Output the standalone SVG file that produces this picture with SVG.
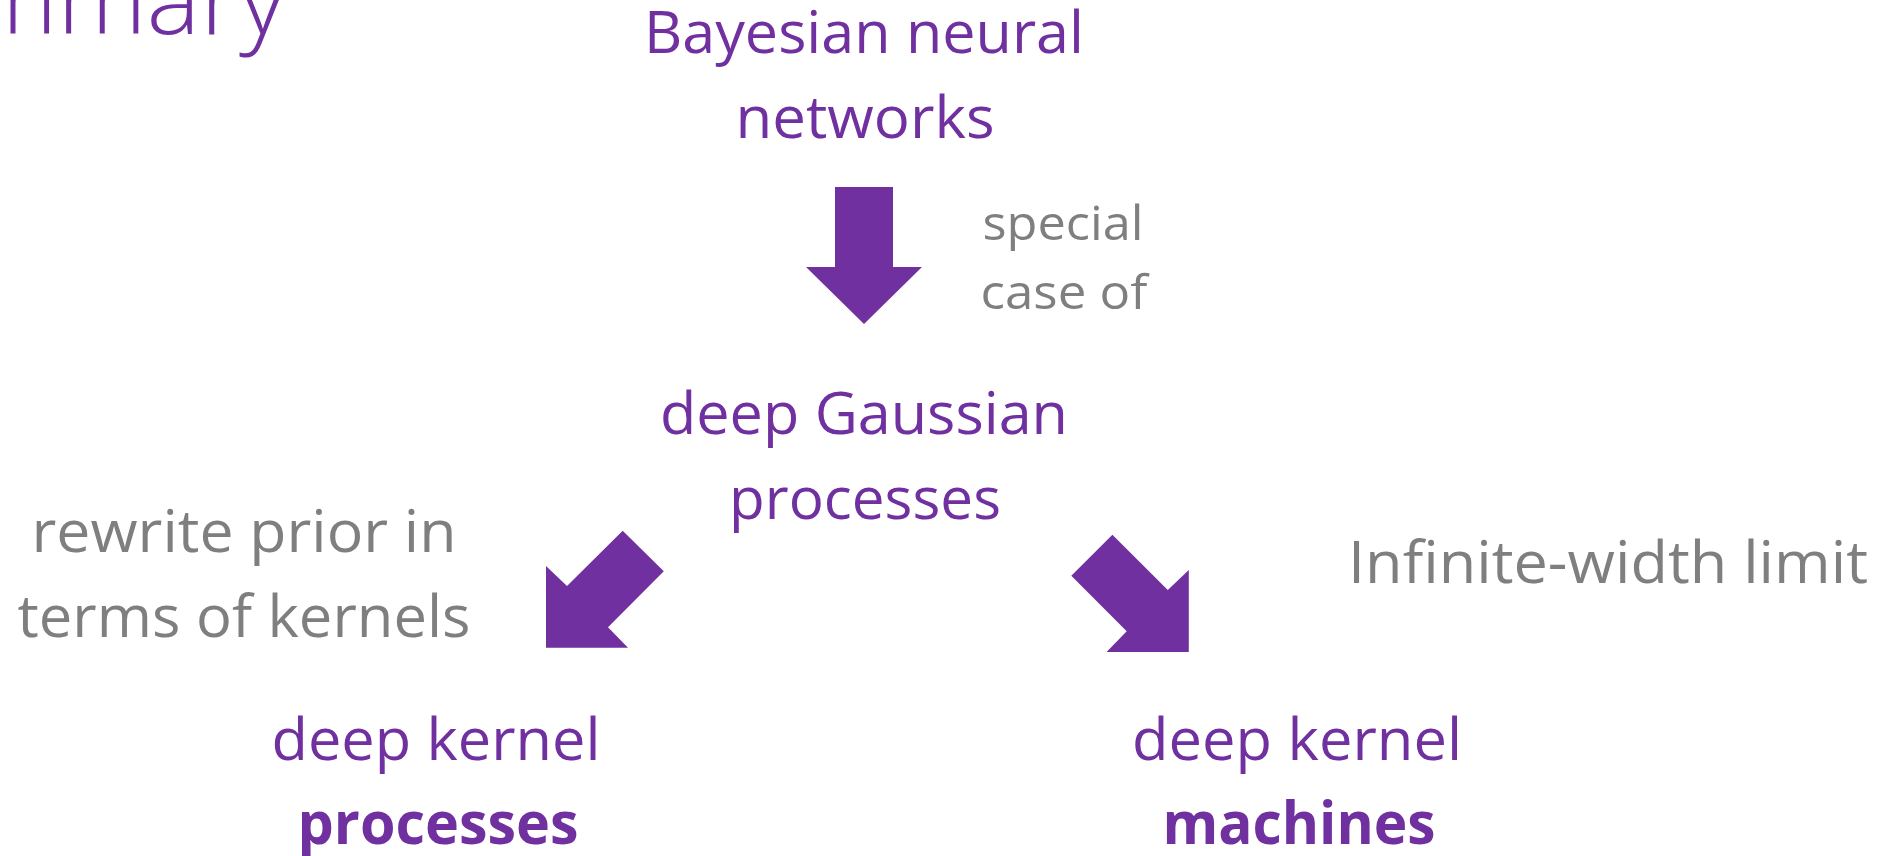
<svg xmlns="http://www.w3.org/2000/svg" width="1888" height="856" viewBox="0 0 1888 856">
<style>
text{font-family:"Open Sans","Liberation Sans","DejaVu Sans",sans-serif;}
.p{fill:#7030A0;font-size:59px;}
.b{font-weight:bold;}
.g{fill:#7F7F7F;font-size:59px;}
.gs{fill:#7F7F7F;font-size:47px;}
.title{fill:#7030A0;font-size:97px;font-weight:300;}
.arrow{fill:#7030A0;stroke:none;}
</style>
<rect width="1888" height="856" fill="#ffffff"/>
<text class="title" x="-147" y="34" textLength="433" lengthAdjust="spacingAndGlyphs">Summary</text>
<g id="node-bnn">
<text class="p" x="864" y="53" text-anchor="middle" textLength="440" lengthAdjust="spacingAndGlyphs">Bayesian neural</text>
<text class="p" x="865" y="138" text-anchor="middle" textLength="259" lengthAdjust="spacingAndGlyphs">networks</text>
</g>
<g id="node-dgp">
<text class="p" x="864" y="434" text-anchor="middle" textLength="408" lengthAdjust="spacingAndGlyphs">deep Gaussian</text>
<text class="p" x="865" y="519" text-anchor="middle" textLength="272" lengthAdjust="spacingAndGlyphs">processes</text>
</g>
<g id="node-dkp">
<text class="p" x="436" y="760" text-anchor="middle" textLength="329" lengthAdjust="spacingAndGlyphs">deep kernel</text>
<text class="p b" x="438" y="844" text-anchor="middle" textLength="281" lengthAdjust="spacingAndGlyphs">processes</text>
</g>
<g id="node-dkm">
<text class="p" x="1297" y="760" text-anchor="middle" textLength="330" lengthAdjust="spacingAndGlyphs">deep kernel</text>
<text class="p b" x="1299" y="844" text-anchor="middle" textLength="273" lengthAdjust="spacingAndGlyphs">machines</text>
</g>
<g id="connectors">
<polygon class="arrow" points="835,187 893,187 893,267 922,267 864,324 806,267 835,267"/>
<polygon class="arrow" points="622.7,530.7 663.8,571.3 608,627.3 628,647.7 546,647.7 546,566 567,586"/>
<polygon class="arrow" points="1112.4,534.7 1071.3,575.7 1126.7,631.3 1106.6,652 1188.8,652 1188.8,570 1167.8,590"/>
<text class="gs" x="1063" y="240" text-anchor="middle" textLength="161" lengthAdjust="spacingAndGlyphs">special</text>
<text class="gs" x="1064" y="309" text-anchor="middle" textLength="167" lengthAdjust="spacingAndGlyphs">case of</text>
<text class="g" x="244" y="552" text-anchor="middle" textLength="425" lengthAdjust="spacingAndGlyphs">rewrite prior in</text>
<text class="g" x="244" y="637" text-anchor="middle" textLength="453" lengthAdjust="spacingAndGlyphs">terms of kernels</text>
<text class="g" x="1608" y="583" text-anchor="middle" textLength="520" lengthAdjust="spacingAndGlyphs">Infinite-width limit</text>
</g>
</svg>
